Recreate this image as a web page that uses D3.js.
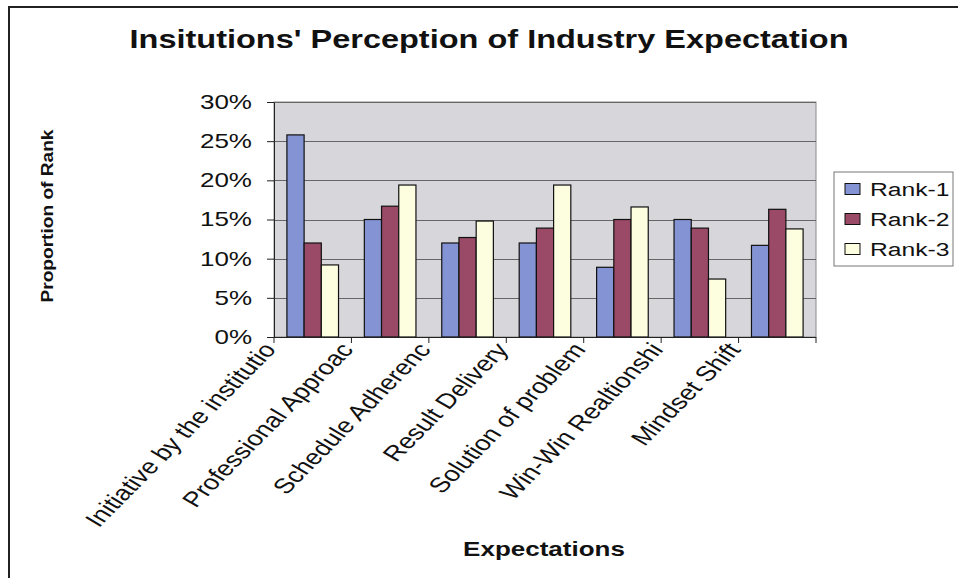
<!DOCTYPE html>
<html>
<head>
<meta charset="utf-8">
<script src="https://cdn.jsdelivr.net/npm/d3@7"></script>
<style>
  body { margin: 0; background: #fff; }
  svg { display: block; }
</style>
</head>
<body>
<svg id="chart" width="958" height="578"></svg>
<script>
// Category labels as they are printed under the axis
const categories = [
  "Initiative by the institutio",
  "Professional Approac",
  "Schedule Adherenc",
  "Result Delivery",
  "Solution of problem",
  "Win-Win Realtionshi",
  "Mindset Shift"
];
const seriesNames = ["Rank-1", "Rank-2", "Rank-3"];
// Proportion of respondents (percent) giving each rank
const rank1 = [25.8, 15.0, 12.0, 12.0, 8.9, 15.0, 11.7];
const rank2 = [12.0, 16.7, 12.7, 13.9, 15.0, 13.9, 16.3];
const rank3 = [9.2, 19.4, 14.8, 19.4, 16.6, 7.4, 13.8];
const yTicks = [0, 5, 10, 15, 20, 25, 30];

const colors = ["#8493d3", "#9a4a66", "#fdfde0"];
const FONT = '"Liberation Sans", Arial, sans-serif';
const SX = 1.3; // horizontal stretch applied to all lettering
// rotation that lands a horizontally stretched baseline at 45 degrees
const ROT = Math.atan(SX) * 180 / Math.PI;

const svg = d3.select("#chart");
const plot = { left: 274, right: 816, top: 102, bottom: 337 };

const x = d3.scaleBand().domain(categories).range([plot.left, plot.right]);
const bw = x.bandwidth();
const x1 = d3.scaleBand().domain(seriesNames).range([bw / 6, bw * 5 / 6]);
const y = d3.scaleLinear().domain([0, 30]).range([plot.bottom, plot.top]);

// chart frame
svg.append("rect")
  .attr("x", 9).attr("y", 7).attr("width", 1000).attr("height", 1000)
  .attr("fill", "#fff").attr("stroke", "#222").attr("stroke-width", 2);

// plot area
svg.append("rect")
  .attr("x", plot.left).attr("y", plot.top)
  .attr("width", plot.right - plot.left).attr("height", plot.bottom - plot.top)
  .attr("fill", "#d7d7db").attr("stroke", "#8a8a8a").attr("stroke-width", 1);

// horizontal gridlines
svg.append("g")
  .selectAll("line")
  .data(yTicks.filter(d => d > 0))
  .join("line")
  .attr("x1", plot.left).attr("x2", plot.right)
  .attr("y1", d => Math.round(y(d)) + 0.5).attr("y2", d => Math.round(y(d)) + 0.5)
  .attr("stroke", "#666").attr("stroke-width", 1);

// bars
const series = seriesNames.map((name, i) => ({
  name, color: colors[i], values: [rank1, rank2, rank3][i]
}));
const groups = svg.append("g")
  .selectAll("g")
  .data(categories)
  .join("g")
  .attr("transform", d => `translate(${x(d)},0)`);
groups.selectAll("rect")
  .data((c, ci) => series.map(s => ({ s, v: s.values[ci] })))
  .join("rect")
  .attr("x", d => x1(d.s.name))
  .attr("width", x1.bandwidth())
  .attr("y", d => y(d.v))
  .attr("height", d => y(0) - y(d.v))
  .attr("fill", d => d.s.color)
  .attr("stroke", "#111")
  .attr("stroke-width", 1.2);

// y axis
const yAxis = svg.append("g")
  .attr("transform", `translate(${plot.left},0)`)
  .call(d3.axisLeft(y).tickValues(yTicks).tickSize(7).tickSizeOuter(0)
    .tickFormat(d => d + "%"));
yAxis.select(".domain").attr("stroke", "#222");
yAxis.selectAll(".tick line").attr("stroke", "#222");
yAxis.selectAll(".tick text")
  .attr("x", 0)
  .attr("transform", `translate(-22,0) scale(${SX},1)`)
  .attr("font-family", FONT).attr("font-size", 20).attr("fill", "#111");

// x axis line and tick marks at category boundaries
const xAxis = svg.append("g");
xAxis.append("line")
  .attr("x1", plot.left).attr("x2", plot.right)
  .attr("y1", plot.bottom + 0.5).attr("y2", plot.bottom + 0.5)
  .attr("stroke", "#222");
const bounds = categories.map(c => x(c)).concat([x.range()[1]]);
xAxis.selectAll("line.tick")
  .data(bounds)
  .join("line")
  .attr("class", "tick")
  .attr("x1", d => d).attr("x2", d => d)
  .attr("y1", plot.bottom).attr("y2", plot.bottom + 6)
  .attr("stroke", "#222");

// slanted category labels, ending just under each boundary tick
xAxis.selectAll("text")
  .data(categories)
  .join("text")
  .attr("transform", d => `translate(${x(d) + 3},350) scale(${SX},1) rotate(${-ROT})`)
  .attr("text-anchor", "end")
  .attr("font-family", FONT).attr("font-size", 21.2).attr("fill", "#111")
  .text(d => d);

// chart title
svg.append("text")
  .attr("transform", `translate(489,48) scale(${SX},1)`)
  .attr("text-anchor", "middle")
  .attr("font-family", FONT).attr("font-weight", "bold").attr("font-size", 25)
  .attr("fill", "#111")
  .text("Insitutions' Perception of Industry Expectation");

// axis titles
svg.append("text")
  .attr("transform", `translate(544,556) scale(${SX},1)`)
  .attr("text-anchor", "middle")
  .attr("font-family", FONT).attr("font-weight", "bold").attr("font-size", 20)
  .attr("fill", "#111")
  .text("Expectations");

svg.append("text")
  .attr("transform", "translate(53,216) rotate(-90)")
  .attr("text-anchor", "middle")
  .attr("font-family", FONT).attr("font-weight", "bold").attr("font-size", 16)
  .attr("textLength", 173).attr("lengthAdjust", "spacingAndGlyphs")
  .attr("fill", "#111")
  .text("Proportion of Rank");

// legend
const legend = svg.append("g");
legend.append("rect")
  .attr("x", 834).attr("y", 172).attr("width", 119).attr("height", 94)
  .attr("fill", "#fff").attr("stroke", "#777").attr("stroke-width", 1);
const items = legend.selectAll("g.item")
  .data(series)
  .join("g")
  .attr("class", "item")
  .attr("transform", (d, i) => `translate(845,${189 + i * 30})`);
items.append("rect")
  .attr("x", 0).attr("y", -5.5).attr("width", 15).attr("height", 11)
  .attr("fill", d => d.color).attr("stroke", "#111").attr("stroke-width", 1);
items.append("text")
  .attr("transform", `translate(25,7) scale(${SX},1)`)
  .attr("font-family", FONT).attr("font-size", 19).attr("fill", "#111")
  .text(d => d.name);
</script>
</body>
</html>
